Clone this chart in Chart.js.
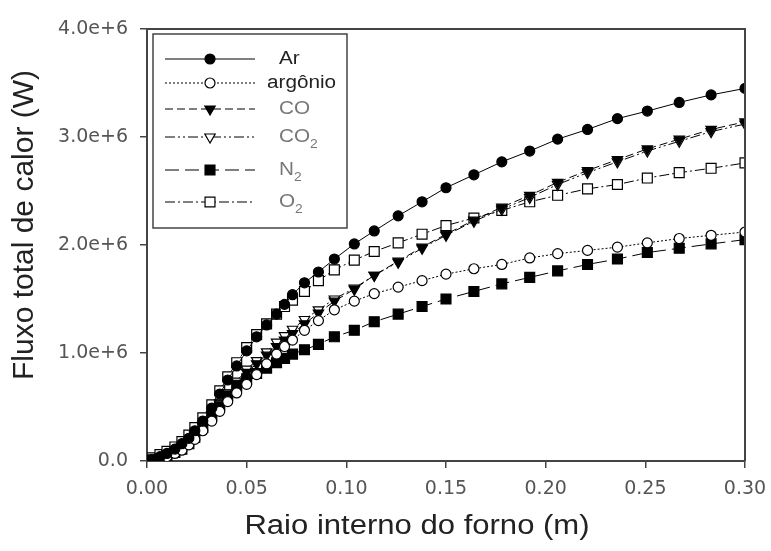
<!DOCTYPE html>
<html>
<head>
<meta charset="utf-8">
<script src="https://cdn.jsdelivr.net/npm/chart.js"></script>
<style>
  body { margin: 0; background: #fff; }
  canvas { display: block; }
</style>
</head>
<body>
<canvas id="chart" width="771" height="551"></canvas>
<script>
// raio interno do forno (m)
const raio = [0, 0.0025, 0.0065, 0.010, 0.014, 0.0175, 0.021, 0.024, 0.028, 0.0325,
  0.0365, 0.0405, 0.045, 0.050, 0.055, 0.060, 0.065, 0.069, 0.073, 0.079,
  0.086, 0.094, 0.104, 0.114, 0.126, 0.138, 0.150, 0.164, 0.178, 0.192,
  0.206, 0.221, 0.236, 0.251, 0.267, 0.283, 0.300];

// fluxo total de calor, em unidades de 1e+6 W
const fluxoAr = [0, 0.01, 0.04, 0.07, 0.11, 0.16, 0.21, 0.28, 0.37, 0.49,
  0.62, 0.75, 0.88, 1.02, 1.15, 1.26, 1.36, 1.45, 1.54, 1.65,
  1.75, 1.87, 2.01, 2.13, 2.27, 2.40, 2.53, 2.65, 2.77, 2.87,
  2.98, 3.07, 3.17, 3.24, 3.32, 3.39, 3.45];
const fluxoArgonio = [0, 0.01, 0.02, 0.04, 0.07, 0.10, 0.15, 0.20, 0.28, 0.37,
  0.46, 0.55, 0.63, 0.71, 0.80, 0.90, 0.99, 1.06, 1.12, 1.21,
  1.30, 1.40, 1.48, 1.55, 1.61, 1.67, 1.73, 1.78, 1.82, 1.88,
  1.92, 1.95, 1.98, 2.02, 2.06, 2.09, 2.12];
const fluxoCO = [0, 0.01, 0.03, 0.06, 0.09, 0.13, 0.18, 0.24, 0.32, 0.42,
  0.52, 0.62, 0.72, 0.82, 0.90, 0.98, 1.06, 1.12, 1.18, 1.27,
  1.37, 1.48, 1.59, 1.72, 1.85, 1.98, 2.10, 2.23, 2.35, 2.46,
  2.58, 2.69, 2.79, 2.89, 2.98, 3.07, 3.14];
const fluxoCO2 = [0, 0.01, 0.03, 0.06, 0.09, 0.13, 0.18, 0.24, 0.33, 0.43,
  0.53, 0.63, 0.74, 0.85, 0.93, 1.01, 1.10, 1.16, 1.22, 1.31,
  1.40, 1.50, 1.60, 1.72, 1.84, 1.97, 2.09, 2.22, 2.33, 2.44,
  2.56, 2.67, 2.77, 2.87, 2.96, 3.05, 3.12];
const fluxoN2 = [0, 0.01, 0.02, 0.05, 0.08, 0.11, 0.16, 0.22, 0.31, 0.42,
  0.52, 0.61, 0.69, 0.76, 0.81, 0.86, 0.91, 0.95, 0.99, 1.03,
  1.08, 1.15, 1.21, 1.29, 1.36, 1.43, 1.50, 1.57, 1.64, 1.70,
  1.76, 1.82, 1.87, 1.93, 1.97, 2.01, 2.05];
const fluxoO2 = [0, 0.03, 0.06, 0.09, 0.13, 0.18, 0.24, 0.31, 0.40, 0.52,
  0.65, 0.78, 0.91, 1.05, 1.17, 1.27, 1.36, 1.43, 1.49, 1.57,
  1.67, 1.77, 1.86, 1.94, 2.02, 2.10, 2.18, 2.25, 2.32, 2.40,
  2.46, 2.52, 2.56, 2.62, 2.67, 2.71, 2.76];

const seriesNames = ["Ar", "argônio", "CO", "CO₂", "N₂", "O₂"];
const xTicks = [0, 0.05, 0.10, 0.15, 0.20, 0.25, 0.30];
const xTickLabels = ["0.00", "0.05", "0.10", "0.15", "0.20", "0.25", "0.30"];
const yTicks = [0, 1, 2, 3, 4];
const yTickLabels = ["0.0", "1.0e+6", "2.0e+6", "3.0e+6", "4.0e+6"];

function pts(values) {
    return raio.map((r, i) => ({ x: r, y: values[i] }));
}

function serie(label, values, dash, style, filled, radius, rotation) {
    return {
        label: label,
        data: pts(values),
        borderColor: "#000",
        borderWidth: 1,
        borderDash: dash,
        pointStyle: style,
        pointRotation: rotation || 0,
        pointRadius: radius,
        pointBorderWidth: 1.2,
        pointBorderColor: "#000",
        pointBackgroundColor: filled ? "#000" : "#fff",
        tension: 0
    };
}

const datasets = [
    serie(seriesNames[0], fluxoAr, [], "circle", true, 5),
    serie(seriesNames[1], fluxoArgonio, [2, 2], "circle", false, 5),
    serie(seriesNames[2], fluxoCO, [8, 4], "triangle", true, 6, 180),
    serie(seriesNames[3], fluxoCO2, [10, 3, 2, 3, 2, 3], "triangle", false, 6, 180),
    serie(seriesNames[4], fluxoN2, [14, 6], "rect", true, 7),
    serie(seriesNames[5], fluxoO2, [10, 3, 2, 3], "rect", false, 7)
];

// moldura superior e direita
const frame = {
    id: "frame",
    afterDraw(chart) {
        const { ctx, chartArea: a } = chart;
        ctx.save();
        ctx.strokeStyle = "#444";
        ctx.lineWidth = 2;
        ctx.beginPath();
        ctx.moveTo(a.left, a.top);
        ctx.lineTo(a.right, a.top);
        ctx.lineTo(a.right, a.bottom);
        ctx.stroke();
        ctx.restore();
    }
};

// titulos dos eixos (texto um pouco esticado na horizontal, como no original)
const axisTitles = {
    id: "axisTitles",
    afterDraw(chart) {
        const ctx = chart.ctx;
        ctx.save();
        ctx.fillStyle = "#222";
        ctx.textAlign = "center";
        ctx.textBaseline = "middle";
        ctx.font = "27px 'Liberation Sans', Arial, sans-serif";
        ctx.save();
        ctx.translate(417, 527);
        ctx.scale(1.15, 1);
        ctx.fillText("Raio interno do forno (m)", 0, 0);
        ctx.restore();
        ctx.font = "30px 'Liberation Sans', Arial, sans-serif";
        ctx.translate(25, 225);
        ctx.rotate(-Math.PI / 2);
        ctx.fillText("Fluxo total de calor (W)", 0, 0);
        ctx.restore();
    }
};

// legenda dentro do grafico
const legendBox = {
    id: "legendBox",
    afterDraw(chart) {
        const ctx = chart.ctx;
        const rows = [59, 83, 109, 137, 170, 202];
        ctx.save();
        ctx.fillStyle = "#fff";
        ctx.fillRect(153, 34, 194, 194);
        ctx.strokeStyle = "#444";
        ctx.lineWidth = 1.5;
        ctx.strokeRect(153, 34, 194, 194);
        chart.data.datasets.forEach((ds, i) => {
            const y = rows[i];
            ctx.strokeStyle = "#000";
            ctx.lineWidth = 1;
            ctx.setLineDash(ds.borderDash);
            ctx.beginPath();
            ctx.moveTo(165, y);
            ctx.lineTo(255, y);
            ctx.stroke();
            ctx.setLineDash([]);
            ctx.fillStyle = ds.pointBackgroundColor;
            ctx.lineWidth = 1.2;
            Chart.helpers.drawPoint(ctx, {
                pointStyle: ds.pointStyle,
                rotation: ds.pointRotation,
                radius: ds.pointRadius,
                borderWidth: 1.2
            }, 210, y);

            const parts = ds.label.split("₂");
            ctx.fillStyle = i < 2 ? "#222" : "#777";
            ctx.textBaseline = "middle";
            ctx.textAlign = "left";
            ctx.save();
            ctx.translate(i === 1 ? 267 : 279, y);
            ctx.scale(1.15, 1);
            ctx.font = "18px 'Liberation Sans', Arial, sans-serif";
            ctx.fillText(parts[0], 0, 0);
            if (parts.length > 1) {
                const w = ctx.measureText(parts[0]).width;
                ctx.font = "12px 'Liberation Sans', Arial, sans-serif";
                ctx.fillText("2", w, 8);
            }
            ctx.restore();
        });
        ctx.restore();
    }
};

const tickFont = { family: "'DejaVu Sans', sans-serif", size: 19 };

new Chart(document.getElementById("chart").getContext("2d"), {
    type: "line",
    data: { datasets: datasets },
    options: {
        responsive: false,
        animation: false,
        layout: { padding: { top: 29, right: 26, left: 0, bottom: 0 } },
        plugins: { legend: { display: false }, tooltip: { enabled: false } },
        scales: {
            x: {
                type: "linear",
                min: 0,
                max: 0.30,
                afterBuildTicks: s => { s.ticks = xTicks.map(v => ({ value: v })); },
                afterFit: s => { s.height = 90; s.paddingLeft = 0; s.paddingRight = 0; },
                ticks: {
                    color: "#555",
                    font: tickFont,
                    padding: 10,
                    maxRotation: 0,
                    callback: (v, i) => xTickLabels[i]
                },
                grid: { drawOnChartArea: false, drawTicks: true, tickLength: 7, color: "#444", lineWidth: 1.5 },
                border: { display: true, color: "#444", width: 2 }
            },
            y: {
                type: "linear",
                min: 0,
                max: 4,
                afterBuildTicks: s => { s.ticks = yTicks.map(v => ({ value: v })); },
                afterFit: s => { s.width = 147; s.paddingTop = 0; s.paddingBottom = 0; },
                ticks: {
                    color: "#555",
                    font: tickFont,
                    padding: 12,
                    callback: (v, i) => yTickLabels[i]
                },
                grid: { drawOnChartArea: false, drawTicks: true, tickLength: 7, color: "#444", lineWidth: 1.5 },
                border: { display: true, color: "#444", width: 2 }
            }
        }
    },
    plugins: [frame, axisTitles, legendBox]
});
</script>
</body>
</html>
